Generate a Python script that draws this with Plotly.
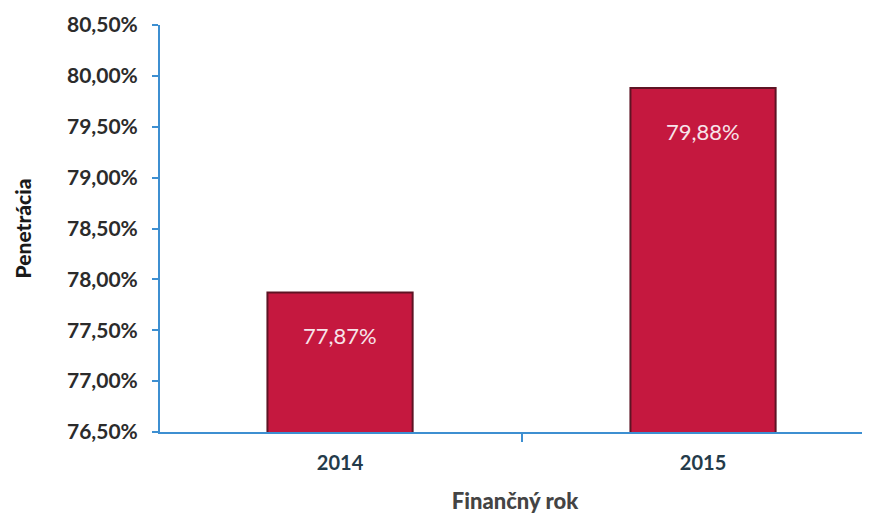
import plotly.graph_objects as go

# data
years = ['2014', '2015']
penetration = [77.87, 79.88]
tick_vals = [76.5, 77.0, 77.5, 78.0, 78.5, 79.0, 79.5, 80.0, 80.5]
tick_text = ['76,50%', '77,00%', '77,50%', '78,00%', '78,50%', '79,00%', '79,50%', '80,00%', '80,50%']
bar_labels = ['77,87%', '79,88%']

AXIS_BLUE = '#3d8fd1'

fig = go.Figure(go.Bar(
    x=years, y=penetration, width=0.4,
    marker=dict(color='#c5183f', line=dict(color='#5e1424', width=2)),
    hoverinfo='skip'
))

# labels sit a bit below the top of each bar (x given as category index)
for i, (val, lab) in enumerate(zip(penetration, bar_labels)):
    fig.add_annotation(x=i, y=val, xref='x', yref='y', text=lab, showarrow=False,
                       yshift=-43, font=dict(family='Lato', size=22, color='#f7e4ea'))

# page body has an 8px margin, so the figure is a bit smaller than the window
fig.update_layout(
    width=862, height=508,
    margin=dict(l=152, r=0, t=17, b=84),
    paper_bgcolor='white', plot_bgcolor='white',
    showlegend=False,
)
fig.update_yaxes(
    range=[76.5, 80.5], tickvals=tick_vals, ticktext=tick_text,
    showgrid=False, zeroline=False,
    showline=True, linecolor=AXIS_BLUE, linewidth=2,
    ticks='outside', ticklen=6, tickcolor=AXIS_BLUE, tickwidth=2, ticklabelstandoff=10,
    tickfont=dict(family='Lato', size=21, color='#2b2b2b', weight='bold'),
    title=dict(text='Penetrácia', standoff=30,
               font=dict(family='Lato', size=21, color='#1a1a1a', weight=900)),
)
fig.update_xaxes(
    type='category', range=[-0.496, 1.46],
    showgrid=False, showline=True, linecolor=AXIS_BLUE, linewidth=2,
    ticks='outside', tickson='boundaries', ticklen=8, tickcolor=AXIS_BLUE, tickwidth=2,
    ticklabelstandoff=12,
    tickfont=dict(family='Lato', size=20, color='#243b4a', weight='bold'),
    title=dict(text='Finančný rok', standoff=21,
               font=dict(family='Lato', size=22, color='#444444', weight=900)),
)

fig.write_html("out.html")
